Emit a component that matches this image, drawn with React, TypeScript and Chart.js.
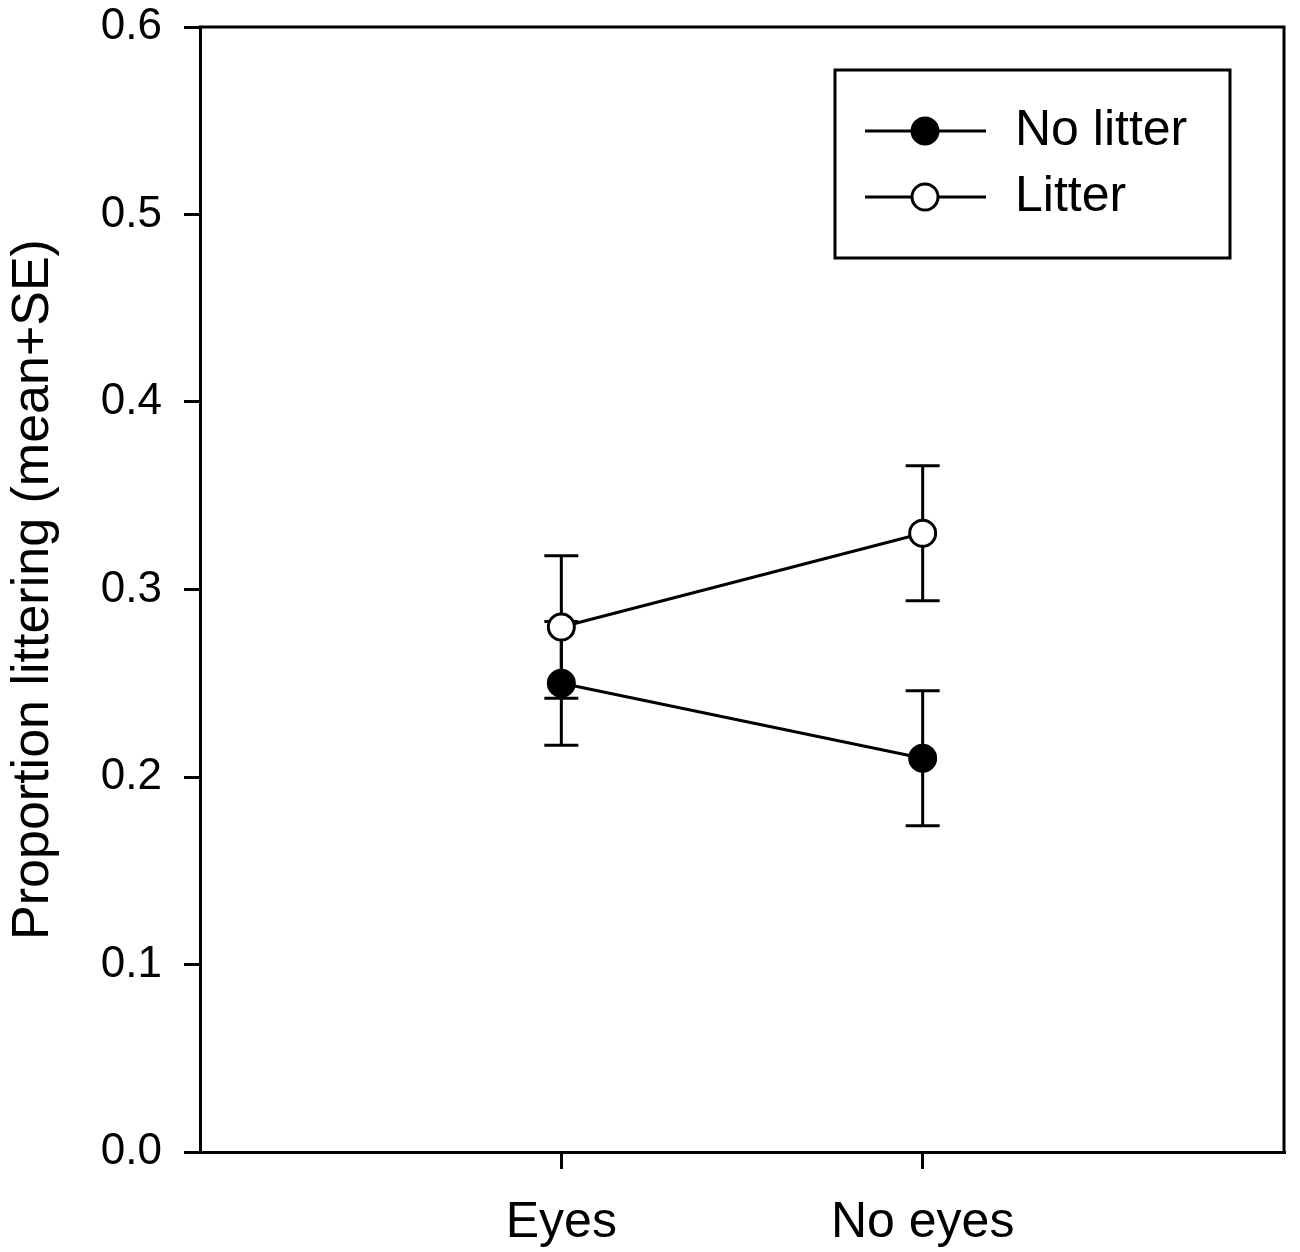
import React, { useEffect, useRef } from 'react';
import { Chart, registerables } from 'chart.js';

Chart.register(...registerables);

// ---- data ----
const categories = ['Eyes', 'No eyes'];
const categoryPositions = [1, 2];
const seriesLabels = ['No litter', 'Litter'];
const noLitterMeans = [0.25, 0.21];
const noLitterSE = [0.033, 0.036];
const litterMeans = [0.28, 0.33];
const litterSE = [0.038, 0.036];
const yTicks = [0, 0.1, 0.2, 0.3, 0.4, 0.5, 0.6];
const yAxisTitle = 'Proportion littering (mean+SE)';

const FONT = '"Liberation Sans", Arial, Helvetica, sans-serif';

const errorBarPlugin = {
  id: 'errorBars',
  beforeDatasetsDraw(chart: any) {
    const { ctx, scales } = chart;
    const xs = scales.x;
    const ys = scales.y;
    ctx.save();
    ctx.strokeStyle = '#000';
    ctx.lineWidth = 3;
    chart.data.datasets.forEach((ds: any) => {
      ds.data.forEach((p: any, i: number) => {
        const e = ds.errors[i];
        const px = xs.getPixelForValue(p.x);
        const top = ys.getPixelForValue(p.y + e);
        const bot = ys.getPixelForValue(p.y - e);
        const cap = 17;
        ctx.beginPath();
        ctx.moveTo(px, top);
        ctx.lineTo(px, bot);
        ctx.moveTo(px - cap, top);
        ctx.lineTo(px + cap, top);
        ctx.moveTo(px - cap, bot);
        ctx.lineTo(px + cap, bot);
        ctx.stroke();
      });
    });
    // frame top and right
    const a = chart.chartArea;
    ctx.beginPath();
    ctx.moveTo(a.left - 1.5, a.top);
    ctx.lineTo(a.right, a.top);
    ctx.lineTo(a.right, a.bottom + 1.5);
    ctx.stroke();
    ctx.restore();
  },
  afterDatasetsDraw(chart: any) {
    const { ctx } = chart;
    const a = chart.chartArea;
    ctx.save();
    const boxL = a.right - 449;
    const boxT = a.top + 43;
    const boxW = 395;
    const boxH = 188;
    ctx.fillStyle = '#fff';
    ctx.fillRect(boxL, boxT, boxW, boxH);
    ctx.strokeStyle = '#000';
    ctx.lineWidth = 3;
    ctx.strokeRect(boxL, boxT, boxW, boxH);
    const rows = [boxT + 61, boxT + 127];
    chart.data.datasets.forEach((ds: any, i: number) => {
      const y = rows[i];
      ctx.beginPath();
      ctx.moveTo(boxL + 30, y);
      ctx.lineTo(boxL + 151, y);
      ctx.lineWidth = 3;
      ctx.stroke();
      ctx.beginPath();
      ctx.arc(boxL + 90, y, 13, 0, Math.PI * 2);
      ctx.fillStyle = ds.pointBackgroundColor;
      ctx.fill();
      ctx.stroke();
      ctx.fillStyle = '#000';
      ctx.font = `50px ${FONT}`;
      ctx.textBaseline = 'middle';
      ctx.textAlign = 'left';
      ctx.fillText(ds.label, boxL + 180, y);
    });
    ctx.restore();
  },
};

export default function App() {
  const ref = useRef<HTMLCanvasElement | null>(null);
  useEffect(() => {
    document.body.style.margin = '0';
    const canvas = ref.current;
    if (!canvas) return;
    const mk = (means: number[], se: number[], label: string, fill: string) => ({
      label,
      data: categoryPositions.map((x, i) => ({ x, y: means[i] })),
      errors: se,
      borderColor: '#000',
      borderWidth: 3,
      pointRadius: 13,
      pointHoverRadius: 13,
      pointBorderWidth: 3,
      pointBorderColor: '#000',
      pointBackgroundColor: fill,
      backgroundColor: fill,
      fill: false,
      tension: 0,
      clip: false,
    });
    const chart = new Chart(canvas, {
      type: 'line',
      data: {
        datasets: [
          mk(noLitterMeans, noLitterSE, seriesLabels[0], '#000'),
          mk(litterMeans, litterSE, seriesLabels[1], '#fff'),
        ] as any,
      },
      options: {
        animation: false,
        responsive: false,
        devicePixelRatio: 1,
        layout: { padding: { top: 27, right: 2, left: 0, bottom: 0 } },
        plugins: { legend: { display: false }, tooltip: { enabled: false } },
        scales: {
          x: {
            type: 'linear',
            min: 0,
            max: 3,
            afterBuildTicks: (s: any) => {
              s.ticks = categoryPositions.map((v) => ({ value: v }));
            },
            afterFit: (s: any) => {
              s.height = 100;
              s.paddingLeft = 0;
              s.paddingRight = 0;
            },
            ticks: {
              color: '#000',
              font: { family: FONT, size: 50 },
              padding: 24,
              maxRotation: 0,
              autoSkip: false,
              callback: (v: any) => {
                const i = categoryPositions.indexOf(Number(v));
                return i >= 0 ? categories[i] : '';
              },
            },
            grid: {
              display: true,
              drawOnChartArea: false,
              drawTicks: true,
              tickLength: 17,
              color: '#000',
              lineWidth: 3,
            },
            border: { display: true, color: '#000', width: 3 },
          },
          y: {
            type: 'linear',
            min: 0,
            max: 0.6,
            afterBuildTicks: (s: any) => {
              s.ticks = yTicks.map((v) => ({ value: v }));
            },
            afterFit: (s: any) => {
              s.width = 200;
              s.paddingTop = 0;
              s.paddingBottom = 0;
            },
            ticks: {
              color: '#000',
              font: { family: FONT, size: 44 },
              padding: 22,
              autoSkip: false,
              callback: (v: any) => Number(v).toFixed(1),
            },
            grid: {
              display: true,
              drawOnChartArea: false,
              drawTicks: true,
              tickLength: 16,
              color: '#000',
              lineWidth: 3,
            },
            border: { display: true, color: '#000', width: 3 },
            title: {
              display: true,
              text: yAxisTitle,
              color: '#000',
              font: { family: FONT, size: 52 },
              padding: { top: 2, bottom: 0 },
            },
          },
        },
      },
      plugins: [errorBarPlugin],
    } as any);
    return () => chart.destroy();
  }, []);
  return <canvas ref={ref} width={1300} height={1252} style={{ display: 'block' }} />;
}
